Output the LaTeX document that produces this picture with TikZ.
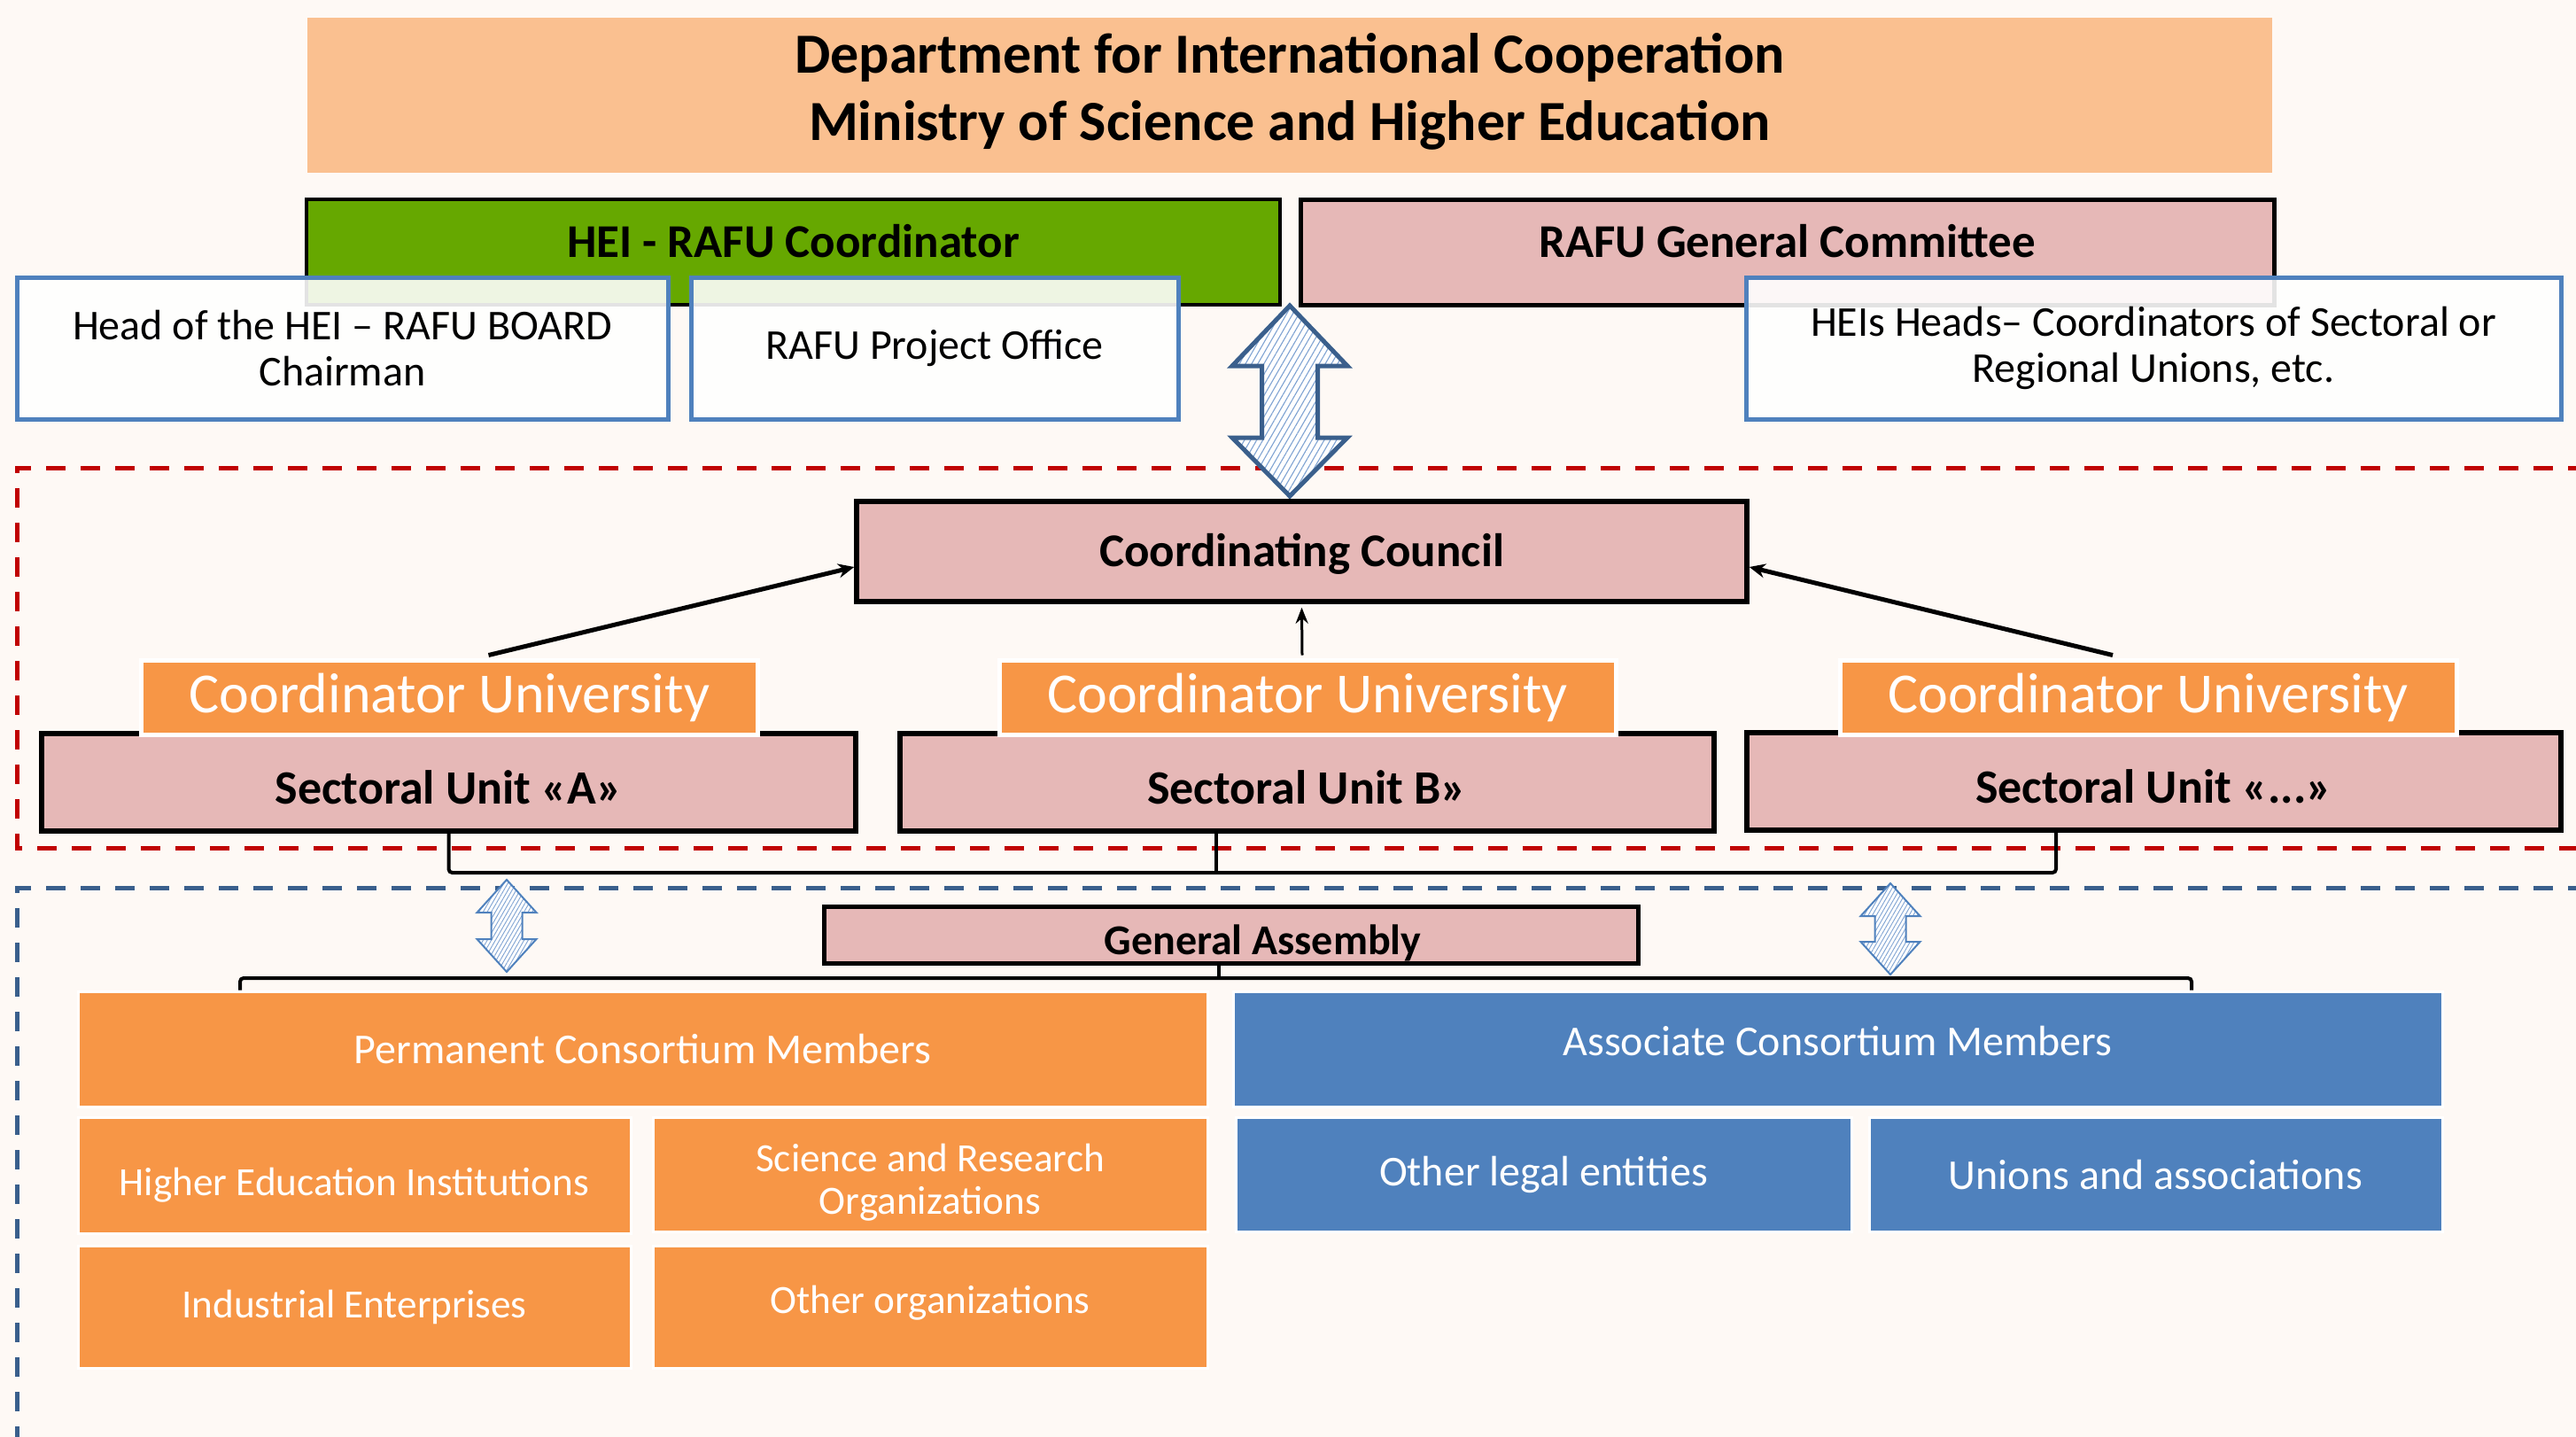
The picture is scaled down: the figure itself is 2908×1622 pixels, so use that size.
\documentclass[tikz,border=0pt]{standalone}
\usepackage{fontspec}
\setmainfont{Carlito}
\usetikzlibrary{patterns.meta,arrows.meta,calc}
\definecolor{bgc}{HTML}{FEF9F5}
\definecolor{titlec}{HTML}{FAC090}
\definecolor{greenc}{HTML}{66A800}
\definecolor{pinkc}{HTML}{E6B8B7}
\definecolor{orangec}{HTML}{F79646}
\definecolor{bluec}{HTML}{4F81BD}
\definecolor{redd}{HTML}{C00000}
\definecolor{blued}{HTML}{3A5F8C}
\definecolor{hatchc}{HTML}{7FA3D2}
\newcommand\mvup[2]{\raisebox{#1}[\height][\depth]{#2}}
\begin{document}
\begin{tikzpicture}[x=0.5pt,y=-0.5pt,
  wh/.style 2 args={minimum width=#1*0.5pt, minimum height=#2*0.5pt},
  base/.style={rectangle, inner sep=0pt, align=center, anchor=center},
  titlebox/.style={base, fill=titlec, font=\fontsize{32}{38}\selectfont\bfseries},
  greenbox/.style={base, fill=greenc, draw=black, line width=2pt, font=\fontsize{26.5}{32}\selectfont\bfseries},
  pinkbox/.style={base, fill=pinkc, draw=black, line width=2.75pt, font=\fontsize{26.5}{32}\selectfont\bfseries},
  whitebox/.style={base, fill=white, fill opacity=0.89, text opacity=1, draw=bluec, draw opacity=1, line width=2.5pt, font=\fontsize{24}{26}\selectfont},
  cubox/.style={base, fill=orangec, draw=white, line width=2.5pt, text=white, font=\fontsize{32}{36}\selectfont},
  obox/.style={base, fill=orangec, draw=white, line width=1.5pt, text=white, font=\fontsize{24}{24}\selectfont},
  osmall/.style={obox, font=\fontsize{22.6}{24}\selectfont},
  bbox/.style={base, fill=bluec, draw=white, line width=1.5pt, text=white, font=\fontsize{24}{24}\selectfont},
  reddash/.style={draw=redd, line width=2.5pt, dash pattern=on 11pt off 8.5pt},
  bluedash/.style={draw=blued, line width=2.5pt, dash pattern=on 11pt off 8.5pt},
  thickarr/.style={draw=black, line width=2.5pt, -{Stealth[length=9pt,width=8pt]}},
  thinarr/.style={draw=black, line width=1.5pt, -{Stealth[length=9pt,width=7pt]}},
  bracket/.style={draw=black, line width=2pt, rounded corners=2pt},
  bigdbl/.style={draw=blued, line width=2.5pt, preaction={fill=white}, pattern={Lines[angle=60,distance=3pt,line width=0.55pt]}, pattern color=hatchc},
  smalldbl/.style={draw=bluec, line width=1pt, preaction={fill=white}, pattern={Lines[angle=60,distance=2pt,line width=0.45pt]}, pattern color=hatchc}
]
\useasboundingbox (0,0) rectangle (2908,1622);
\clip (0,0) rectangle (2908,1622);
\fill[bgc] (0,0) rectangle (2908,1622);

% top
\node[titlebox, wh={2218}{175}] (title) at (1456,107.5) {\mvup{2pt}{Department for International Cooperation}\\\mvup{2pt}{Ministry of Science and Higher Education}};
\node[greenbox, wh={1099}{119}] (hei) at (895.5,284.5) {\mvup{6pt}{HEI - RAFU Coordinator}};
\node[pinkbox, line width=2.5pt, wh={1099}{119}] (gc) at (2017.5,284.5) {\mvup{6pt}{RAFU General Committee}};

\node[whitebox, wh={735}{160}] (head) at (386.5,393) {Head of the HEI – RAFU BOARD\\Chairman};
\node[whitebox, wh={550}{160}] (office) at (1055,393) {RAFU Project Office};
\node[whitebox, wh={920}{160}] (heis) at (2431,393) {HEIs Heads– Coordinators of Sectoral or\\Regional Unions, etc.};

% dashed regions
\draw[reddash] (2960,528) -- (19,528) -- (19,957) -- (2960,957);
\draw[bluedash] (2960,1002) -- (19,1002) -- (19,1700);

% big double arrow
\draw[bigdbl] (1456,345) -- (1521,413) -- (1487.5,413) -- (1487.5,494) -- (1521,494) -- (1456,560) -- (1391,494) -- (1424.5,494) -- (1424.5,413) -- (1391,413) -- cycle;

% council and sectoral units
\node[pinkbox, wh={1005}{113}] (cc) at (1469.5,622.5) {\mvup{-1.5pt}{Coordinating Council}};
\node[pinkbox, font=\fontsize{27}{32}\selectfont\bfseries, wh={919}{110}] (sua) at (506.5,883) {\mvup{-3pt}{Sectoral Unit «A»}};
\node[pinkbox, font=\fontsize{27}{32}\selectfont\bfseries, wh={919}{110}] (sub) at (1475.5,883) {\mvup{-3pt}{Sectoral Unit B»}};
\node[pinkbox, font=\fontsize{27}{32}\selectfont\bfseries, wh={919}{110}] (suc) at (2431.5,882) {\mvup{-3pt}{Sectoral Unit «...»}};
\node[cubox, wh={696}{84}] (cua) at (507.5,787) {Coordinator University};
\node[cubox, wh={696}{84}] (cub) at (1476,787) {Coordinator University};
\node[cubox, wh={696}{84}] (cuc) at (2425,787) {Coordinator University};

\draw[thickarr] ([xshift=22pt,yshift=1.5pt]cua.north) -- ([yshift=-8.75pt]cc.west);
\draw[thinarr] ([xshift=-3pt,yshift=1.5pt]cub.north) -- ([xshift=0pt,yshift=-2pt]cc.south);
\draw[thickarr] ([xshift=-20pt,yshift=1.5pt]cuc.north) -- ([yshift=-8.75pt]cc.east);

% general assembly
\node[pinkbox, line width=2.5pt, wh={919}{64}, font=\fontsize{24}{27}\selectfont\bfseries] (ga) at (1389.5,1055) {\hspace*{36pt}\mvup{-4.5pt}{General Assembly}};

% bracket from sectoral units
\coordinate (b1) at (0,985);
\coordinate (b2) at (0,1104);
\draw[bracket] (sua.south) -- (sua.south |- b1) -- ([xshift=-55.25pt]suc.south |- b1) -- ([xshift=-55.25pt]suc.south);
\draw[bracket] ([xshift=-51.25pt]sub.south) -- ([xshift=-51.25pt]sub.south |- b1);

% small double arrows
\draw[smalldbl] (572,993) -- (605.5,1030) -- (589.5,1030) -- (589.5,1060) -- (605.5,1060) -- (572,1097) -- (538.5,1060) -- (554.5,1060) -- (554.5,1030) -- (538.5,1030) -- cycle;
\draw[smalldbl] (2134,997) -- (2167.5,1034) -- (2151.5,1034) -- (2151.5,1063) -- (2167.5,1063) -- (2134,1100) -- (2100.5,1063) -- (2116.5,1063) -- (2116.5,1034) -- (2100.5,1034) -- cycle;

% consortium members
\node[obox, wh={1275}{130}] (pcm) at (725.5,1184) {Permanent Consortium Members};
\node[osmall, wh={624}{131}] (hei2) at (400,1326.5) {\mvup{-5.5pt}{Higher Education Institutions}};
\node[osmall, wh={626}{129}] (sro) at (1050,1325.5) {\mvup{-4.5pt}{Science and Research}\\\mvup{-4.5pt}{Organizations}};
\node[osmall, wh={624}{138}] (ie) at (400,1475) {Industrial Enterprises};
\node[osmall, wh={626}{138}] (oo) at (1050,1475) {\mvup{2pt}{Other organizations}};
\node[bbox, wh={1365}{130}] (acm) at (2074.5,1184) {\mvup{4.5pt}{Associate Consortium Members}};
\node[bbox, wh={695}{129}] (ole) at (1742.5,1325.5) {Other legal entities};
\node[bbox, wh={647}{129}] (ua) at (2433.5,1325.5) {Unions and associations};

% bracket to consortium members
\draw[bracket] ([xshift=-227.25pt]pcm.north) -- ([xshift=-227.25pt]pcm.north |- b2) -- ([xshift=199.75pt]acm.north |- b2) -- ([xshift=199.75pt]acm.north);
\draw[bracket] ([xshift=-6.75pt]ga.south) -- ([xshift=-6.75pt]ga.south |- b2);
\end{tikzpicture}
\end{document}
